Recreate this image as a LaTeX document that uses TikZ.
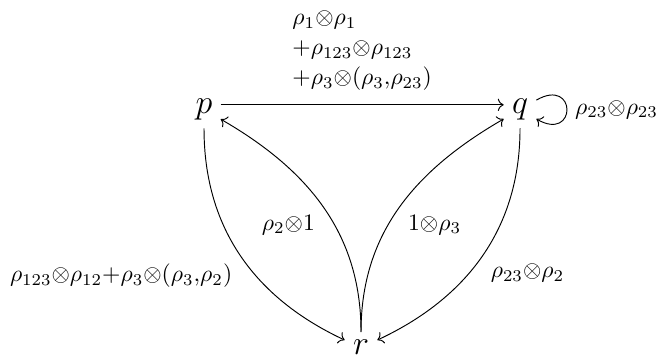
\documentclass[tikz,border=0pt]{standalone}
\usepackage{amsmath,amssymb}
\usepackage{tikz}
\usetikzlibrary{arrows.meta}
\tikzset{
  vertex/.style={font=\Large},
  maparrow/.style={->},
  edgelab/.style={font=\normalsize},
}
\newcommand{\tns}{{\otimes}}
\newcommand{\pls}{{+}}
\begin{document}
\begin{tikzpicture}
        \useasboundingbox (0,0) rectangle (9.888,5.361);
        \node[vertex] (p) at (3.038,3.730) {$p$};
        \node[vertex] (q) at (7.744,3.730) {$q$};
        \node[vertex] (r) at (5.376,0.184) {$r$};
        % top edge
        \draw[maparrow] ([yshift=2pt]p.east) -- node[edgelab,above,align=left,yshift=2.5pt]
          {$\rho_1\tns\rho_1$\\[0.7pt] $+\rho_{123}\tns\rho_{123}$\\[0.7pt] $+\rho_3\tns(\rho_3{,}\rho_{23})$}
          ([yshift=2pt]q.west);
        % down to r
        \draw[maparrow] (p) to[out=-90,in=155]
          node[edgelab,anchor=north east] {$\rho_{123}\tns\rho_{12}\pls\rho_3\tns(\rho_3{,}\rho_2)$} (r);
        \draw[maparrow] (q) to[out=-90,in=25]
          node[edgelab,anchor=north west] {$\rho_{23}\tns\rho_2$} (r);
        % up from r
        \draw[maparrow] (r) to[out=90,in=-30] node[edgelab,anchor=north east] {$\rho_2\tns 1$} (p);
        \draw[maparrow] (r) to[out=90,in=-150] node[edgelab,anchor=north west] {$1\tns\rho_3$} (q);
        % loop at q
        \draw[maparrow] (q) to[out=30,in=-30,min distance=7mm,max distance=7mm]
          node[edgelab,right] {$\rho_{23}\tns\rho_{23}$} (q);
      \end{tikzpicture}
\end{document}
